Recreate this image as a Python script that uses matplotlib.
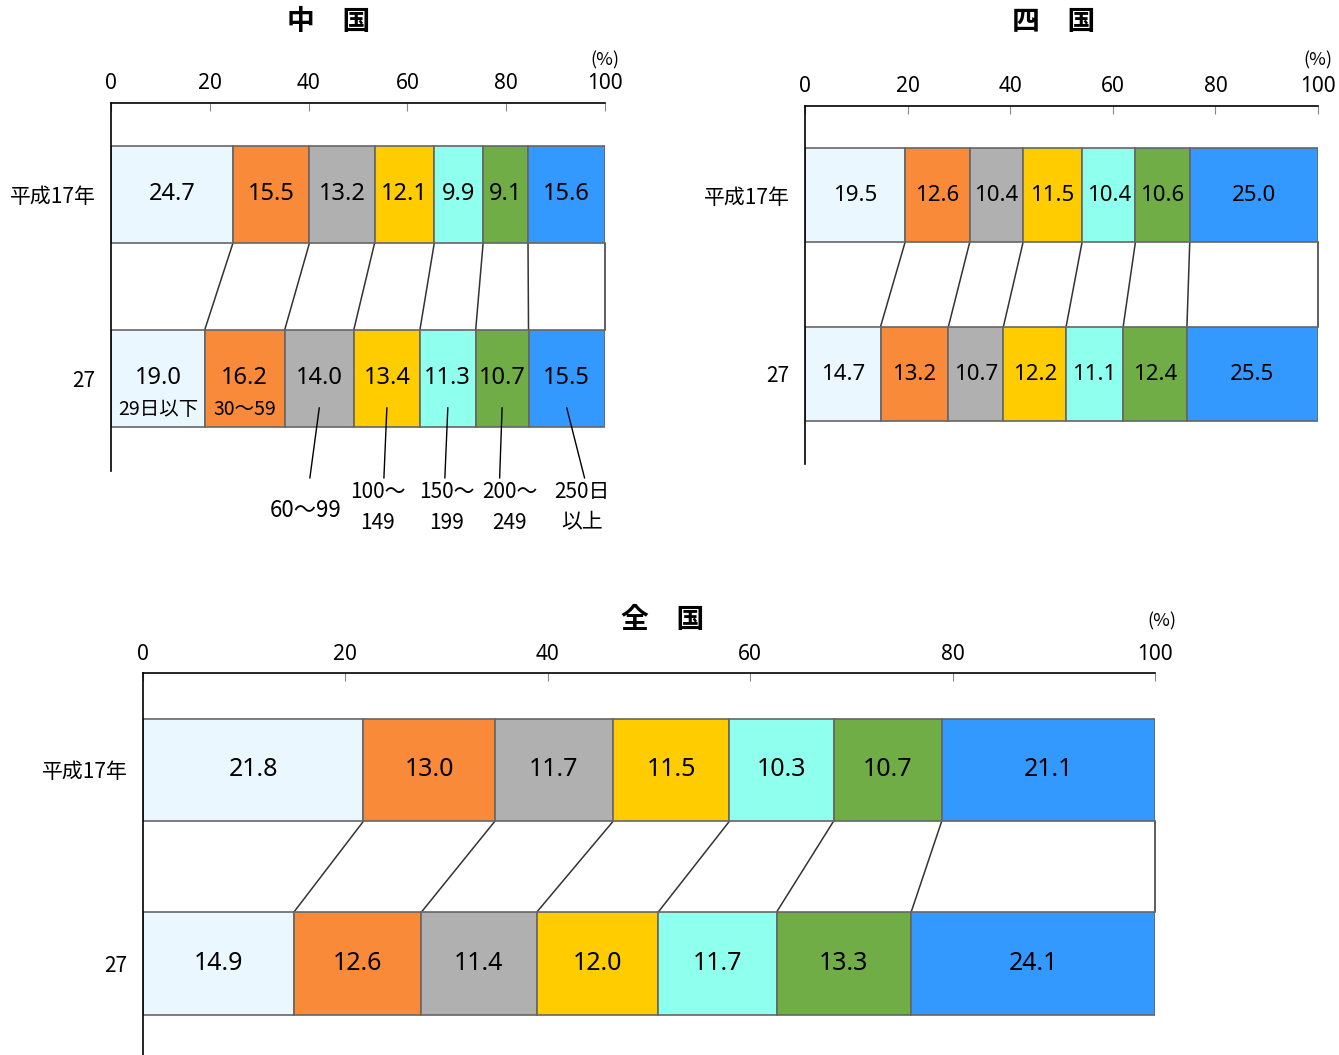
import numpy as np
import matplotlib.pyplot as plt

plt.rcParams['font.family'] = ['Noto Sans CJK JP', 'DejaVu Sans']
NUM = dict(family=['Noto Sans', 'Noto Sans CJK JP'])

years = ['平成17年', '27']
categories = ['29日以下', '30～59', '60～99', '100～\n149', '150～\n199', '200～\n249', '250日\n以上']
colors = ['#EAF7FE', '#F98A3A', '#B0B0B0', '#FFCC00', '#8FFFEE', '#70AD47', '#3399FF']

chugoku_h17 = [24.7, 15.5, 13.2, 12.1, 9.9, 9.1, 15.6]
chugoku_h27 = [19.0, 16.2, 14.0, 13.4, 11.3, 10.7, 15.5]
shikoku_h17 = [19.5, 12.6, 10.4, 11.5, 10.4, 10.6, 25.0]
shikoku_h27 = [14.7, 13.2, 10.7, 12.2, 11.1, 12.4, 25.5]
zenkoku_h17 = [21.8, 13.0, 11.7, 11.5, 10.3, 10.7, 21.1]
zenkoku_h27 = [14.9, 12.6, 11.4, 12.0, 11.7, 13.3, 24.1]

H = 0.53  # bar height

fig = plt.figure(figsize=(13.39, 10.55), dpi=100)


def panel(rect, title, h17, h27, vsize, title_pos, pct_pos):
    ax = fig.add_axes(rect)
    raw = np.array([h17, h27])
    data = raw / raw.sum(axis=1, keepdims=True) * 100
    ypos = np.arange(2)
    left = np.zeros(2)
    for j in range(data.shape[1]):
        ax.barh(ypos, data[:, j], left=left, height=H, color=colors[j],
                edgecolor='#666666', linewidth=1.2, zorder=2)
        for i in range(2):
            ax.text(left[i] + data[i, j] / 2, ypos[i], f'{raw[i, j]:.1f}',
                    ha='center', va='center', fontsize=vsize, zorder=3, **NUM)
        left = left + data[:, j]
    # connecting lines between the two bars
    cum = np.cumsum(data, axis=1)
    for j in range(data.shape[1]):
        ax.plot([cum[0, j], cum[1, j]], [H / 2, 1 - H / 2], color='#333333',
                lw=1.1, zorder=1, clip_on=False)

    ax.set_xlim(0, 100)
    ax.set_ylim(1.5, -0.5)
    ax.xaxis.tick_top()
    ticks = np.arange(0, 101, 20)
    ax.set_xticks(ticks)
    ax.set_xticklabels([str(t) for t in ticks], fontsize=15, **NUM)
    ax.tick_params(axis='x', direction='in', length=6, color='#888888', pad=6)
    ax.set_yticks(ypos)
    ax.set_yticklabels(years, fontsize=15)
    ax.tick_params(axis='y', length=0, pad=11)
    ax.spines['right'].set_visible(False)
    ax.spines['bottom'].set_visible(False)
    ax.spines['left'].set_linewidth(1.2)
    ax.spines['top'].set_linewidth(1.2)
    ax.text(title_pos[0], title_pos[1], title, transform=ax.transAxes,
            ha='center', va='center', fontsize=20, fontweight='bold')
    ax.text(pct_pos[0], pct_pos[1], '(%)', transform=ax.transAxes,
            ha='center', va='center', fontsize=13)
    return ax, data


W, Hpx = 1339, 1055

ax1, d1 = panel([111 / W, 1 - 470.5 / Hpx, 494 / W, 368 / Hpx], '中　国',
                chugoku_h17, chugoku_h27, 17, (0.44, 1.219), (1.0, 1.115))
panel([805 / W, 1 - 463.5 / Hpx, 513 / W, 358 / Hpx], '四　国',
      shikoku_h17, shikoku_h27, 16, (0.485, 1.233), (1.0, 1.125))
panel([143 / W, 1 - 1060.25 / Hpx, 1012 / W, 387 / Hpx], '全　国',
      zenkoku_h17, zenkoku_h27, 18, (0.513, 1.138), (1.007, 1.135))

# category labels on the 中国 panel
cum27 = np.cumsum(d1[1])
mid27 = cum27 - d1[1] / 2
for j in range(2):
    ax1.text(mid27[j], 1.17, categories[j], ha='center', va='center', fontsize=14)
end_dx = [-1.9, -0.6, -0.6, -0.5, 3.6]
lab_dx = [-2.7, -1.9, -0.2, 1.6, 3.1]
lab_y = [1.72, 1.70, 1.70, 1.70, 1.70]
for k, j in enumerate(range(2, 7)):
    ax1.plot([mid27[j], mid27[j] + end_dx[k]], [1.16, 1.54], color='black',
             lw=1, clip_on=False, zorder=4)
    ax1.text(mid27[j] + lab_dx[k], lab_y[k], categories[j], ha='center',
             va='center', fontsize=16 if j == 2 else 15, linespacing=1.5)

fig.savefig('out.png', dpi=100)
